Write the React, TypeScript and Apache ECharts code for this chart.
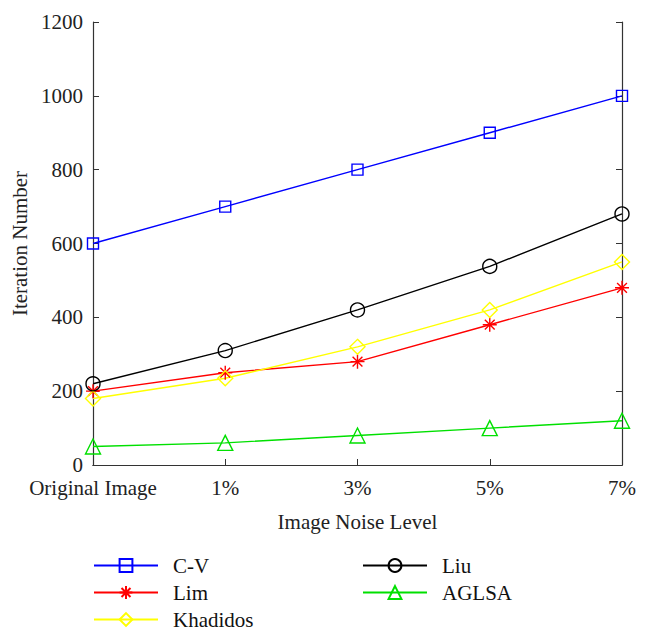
import React, { useEffect, useRef } from "react";
import * as echarts from "echarts";

const categories = ["Original Image", "1%", "3%", "5%", "7%"];
const cvValues = [600, 700, 800, 900, 1000];
const limValues = [200, 250, 280, 380, 480];
const khadidosValues = [180, 235, 320, 420, 550];
const liuValues = [220, 310, 420, 538, 680];
const aglsaValues = [50, 60, 80, 100, 120];

const FONT = "'Liberation Serif', 'Times New Roman', serif";
const STAR = "path://M0,5L10,5M5,0L5,10M1.5,1.5L8.5,8.5M8.5,1.5L1.5,8.5";

export default function App() {
  const ref = useRef<HTMLDivElement>(null);
  useEffect(() => {
    if (!ref.current) return;
    const chart = echarts.init(ref.current, null, { renderer: "svg" });
    const mk = (name: string, data: number[], color: string, symbol: string, size: number) => ({
      name,
      type: "line",
      data,
      symbol,
      symbolSize: size,
      lineStyle: { color, width: 1.4 },
      itemStyle: { color: "transparent", borderColor: color, borderWidth: 1.4 },
      emphasis: { disabled: true },
    });
    const axisLine = { show: true, lineStyle: { color: "#333", width: 1.2 } };
    const tick = { show: true, inside: true, length: 6, lineStyle: { color: "#333" } };
    const legendItem = (name: string, left: number, top: number) => ({
      data: [name],
      left,
      top,
      padding: 0,
      itemWidth: 64,
      itemHeight: 16,
      textStyle: { color: "#111", fontSize: 21, fontFamily: FONT, padding: [0, 0, 0, 10] },
    });
    chart.setOption({
      animation: false,
      backgroundColor: "#fff",
      textStyle: { fontFamily: FONT },
      grid: { left: 93, right: 24, top: 22, bottom: 179, containLabel: false },
      xAxis: [
        {
          type: "category",
          data: categories,
          boundaryGap: false,
          axisLine,
          axisTick: { ...tick, interval: 0 },
          axisLabel: { color: "#222", fontSize: 21, fontFamily: FONT, margin: 12, interval: 0 },
          name: "Image Noise Level",
          nameLocation: "middle",
          nameGap: 46,
          nameTextStyle: { color: "#222", fontSize: 21, fontFamily: FONT },
          splitLine: { show: false },
        },
        {
          type: "category",
          data: categories,
          boundaryGap: false,
          position: "top",
          axisLine,
          axisTick: { show: false },
          axisLabel: { show: false },
          splitLine: { show: false },
        },
      ],
      yAxis: [
        {
          type: "value",
          min: 0,
          max: 1200,
          interval: 200,
          axisLine,
          axisTick: tick,
          axisLabel: {
            color: "#222",
            fontSize: 21,
            fontFamily: FONT,
            margin: 10,
            formatter: (v: number) => String(v),
          },
          splitLine: { show: false },
          name: "Iteration Number",
          nameLocation: "middle",
          nameGap: 58,
          nameTextStyle: { color: "#222", fontSize: 21, fontFamily: FONT },
        },
        {
          type: "value",
          min: 0,
          max: 1200,
          interval: 200,
          position: "right",
          axisLine,
          axisTick: tick,
          axisLabel: { show: false },
          splitLine: { show: false },
        },
      ],
      legend: [
        legendItem("C-V", 93, 555),
        legendItem("Lim", 93, 582),
        legendItem("Khadidos", 93, 609),
        legendItem("Liu", 362, 555),
        legendItem("AGLSA", 362, 582),
      ],
      series: [
        mk("C-V", cvValues, "#0000ff", "rect", 11),
        mk("Lim", limValues, "#ff0000", STAR, 14),
        mk("Khadidos", khadidosValues, "#ffff00", "diamond", 15),
        mk("Liu", liuValues, "#000000", "circle", 14),
        mk("AGLSA", aglsaValues, "#00e000", "triangle", 15),
      ],
    });
    return () => chart.dispose();
  }, []);
  return <div ref={ref} style={{ width: 646, height: 644, margin: -8 }} />;
}
